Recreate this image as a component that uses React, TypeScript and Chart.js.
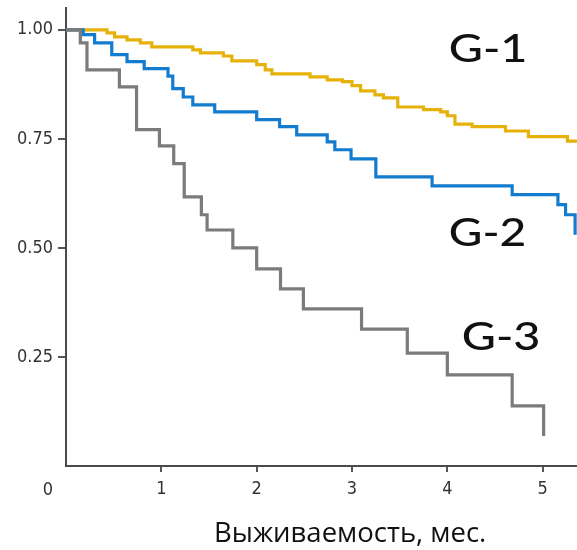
import React, { useEffect, useRef } from 'react';
import { Chart, registerables } from 'chart.js';

Chart.register(...registerables);

// Kaplan–Meier style survival curves (time in months)
const g1Times = [0, 0.43, 0.51, 0.64, 0.78, 0.9, 1.33, 1.41, 1.65, 1.74, 2.0, 2.09, 2.16, 2.56, 2.74, 2.9, 3.0, 3.09, 3.24, 3.33, 3.48, 3.75, 3.93, 4.0, 4.08, 4.26, 4.61, 4.85, 5.26, 5.36];
const g1Surv = [1.0, 0.993, 0.984, 0.977, 0.97, 0.961, 0.954, 0.947, 0.94, 0.929, 0.92, 0.908, 0.899, 0.892, 0.885, 0.881, 0.872, 0.86, 0.851, 0.844, 0.823, 0.817, 0.812, 0.803, 0.784, 0.778, 0.768, 0.755, 0.745, 0.745];

const g2Times = [0, 0.18, 0.3, 0.48, 0.64, 0.82, 1.07, 1.12, 1.23, 1.33, 1.56, 2.0, 2.24, 2.42, 2.74, 2.82, 2.99, 3.25, 3.84, 4.68, 5.16, 5.24, 5.34];
const g2Surv = [1.0, 0.989, 0.97, 0.943, 0.927, 0.911, 0.894, 0.865, 0.846, 0.828, 0.812, 0.794, 0.778, 0.759, 0.743, 0.725, 0.704, 0.663, 0.642, 0.622, 0.599, 0.576, 0.53];

const g3Times = [0, 0.15, 0.22, 0.56, 0.74, 0.98, 1.13, 1.24, 1.42, 1.48, 1.75, 2.0, 2.25, 2.49, 3.1, 3.58, 4.0, 4.68, 5.01];
const g3Surv = [1.0, 0.97, 0.908, 0.869, 0.771, 0.734, 0.693, 0.617, 0.576, 0.541, 0.5, 0.452, 0.406, 0.36, 0.314, 0.259, 0.209, 0.138, 0.069];

const groupNames = ['G-1', 'G-2', 'G-3'];
const xTickValues = [1, 2, 3, 4, 5];
const yTickValues = [0.25, 0.5, 0.75, 1.0];
const xAxisTitle = 'Выживаемость, мес.';
const originLabel = '0';

const X_MAX = 5.36;
const Y_MAX = 1.05;

const tickFont = '"DejaVu Sans Condensed", "DejaVu Sans", sans-serif';
const labelFont = 'Lato, "Open Sans", sans-serif';
const textFont = '"Open Sans", "Noto Sans", sans-serif';

function toPoints(t: number[], s: number[]) {
  return t.map((x, i) => ({ x, y: s[i] }));
}

function drawFit(ctx: CanvasRenderingContext2D, text: string, left: number, baseline: number, width: number, font: string) {
  ctx.save();
  ctx.font = font;
  const m = ctx.measureText(text);
  const gw = m.actualBoundingBoxLeft + m.actualBoundingBoxRight;
  const sx = gw > 0 ? width / gw : 1;
  ctx.translate(left, baseline);
  ctx.scale(sx, 1);
  ctx.textAlign = 'left';
  ctx.textBaseline = 'alphabetic';
  ctx.fillText(text, m.actualBoundingBoxLeft, 0);
  ctx.restore();
}

const annotations = {
  id: 'annotations',
  afterDraw(chart: any) {
    const ctx: CanvasRenderingContext2D = chart.ctx;
    ctx.save();
    ctx.fillStyle = '#111111';
    drawFit(ctx, groupNames[0], 450, 62, 75, `500 38px ${labelFont}`);
    drawFit(ctx, groupNames[1], 450, 246, 75, `500 38px ${labelFont}`);
    drawFit(ctx, groupNames[2], 463, 350, 75, `500 38px ${labelFont}`);
    drawFit(ctx, xAxisTitle, 216, 542, 269, `28px ${textFont}`);
    // origin label at the axis corner
    const xs = chart.scales.x;
    ctx.fillStyle = '#333333';
    ctx.font = `18px ${tickFont}`;
    ctx.textAlign = 'center';
    ctx.textBaseline = 'middle';
    ctx.fillText(originLabel, xs.getPixelForValue(0) - 18, 490);
    ctx.restore();
  },
};

export default function App() {
  const ref = useRef<HTMLCanvasElement | null>(null);

  useEffect(() => {
    if (!ref.current) return;
    const mk = (label: string, t: number[], s: number[], color: string, order: number) => ({
      label,
      data: toPoints(t, s),
      borderColor: color,
      backgroundColor: color,
      borderWidth: 3.2,
      pointRadius: 0,
      stepped: 'before' as const,
      fill: false,
      order,
    });
    const chart = new Chart(ref.current, {
      type: 'line',
      data: {
        datasets: [
          mk(groupNames[0], g1Times, g1Surv, '#E6B20A', 3),
          mk(groupNames[1], g2Times, g2Surv, '#137CCE', 2),
          mk(groupNames[2], g3Times, g3Surv, '#7B7B7B', 1),
        ],
      },
      options: {
        responsive: false,
        animation: false,
        layout: { padding: { top: 8, left: 0, right: 0, bottom: 0 } },
        plugins: { legend: { display: false }, tooltip: { enabled: false } },
        scales: {
          x: {
            type: 'linear',
            min: 0,
            max: X_MAX,
            afterFit: (scale: any) => {
              scale.height = 84;
              scale.paddingLeft = 0;
              scale.paddingRight = 0;
            },
            afterBuildTicks: (scale: any) => {
              scale.ticks = xTickValues.map((v) => ({ value: v }));
            },
            ticks: {
              color: '#333333',
              font: { family: tickFont, size: 18 },
              padding: 7,
              maxRotation: 0,
              callback: (v: any) => String(v),
            },
            grid: { drawOnChartArea: false, drawTicks: true, tickLength: 6, color: '#555555', lineWidth: 2 },
            border: { display: true, color: '#4a4a4a', width: 2 },
          },
          y: {
            type: 'linear',
            min: 0,
            max: Y_MAX,
            afterFit: (scale: any) => {
              scale.width = 66;
              scale.paddingTop = 0;
              scale.paddingBottom = 0;
            },
            afterBuildTicks: (scale: any) => {
              scale.ticks = yTickValues.map((v) => ({ value: v }));
            },
            ticks: {
              color: '#333333',
              font: { family: tickFont, size: 18 },
              padding: 5,
              callback: (v: any) => Number(v).toFixed(2),
            },
            grid: { drawOnChartArea: false, drawTicks: true, tickLength: 8, color: '#555555', lineWidth: 2 },
            border: { display: true, color: '#4a4a4a', width: 2 },
          },
        },
      },
      plugins: [annotations],
    });
    return () => chart.destroy();
  }, []);

  return (
    <div style={{ position: 'absolute', left: 0, top: 0, width: 577, height: 550, background: '#fff' }}>
      <canvas ref={ref} width={577} height={550} style={{ display: 'block' }} />
    </div>
  );
}
